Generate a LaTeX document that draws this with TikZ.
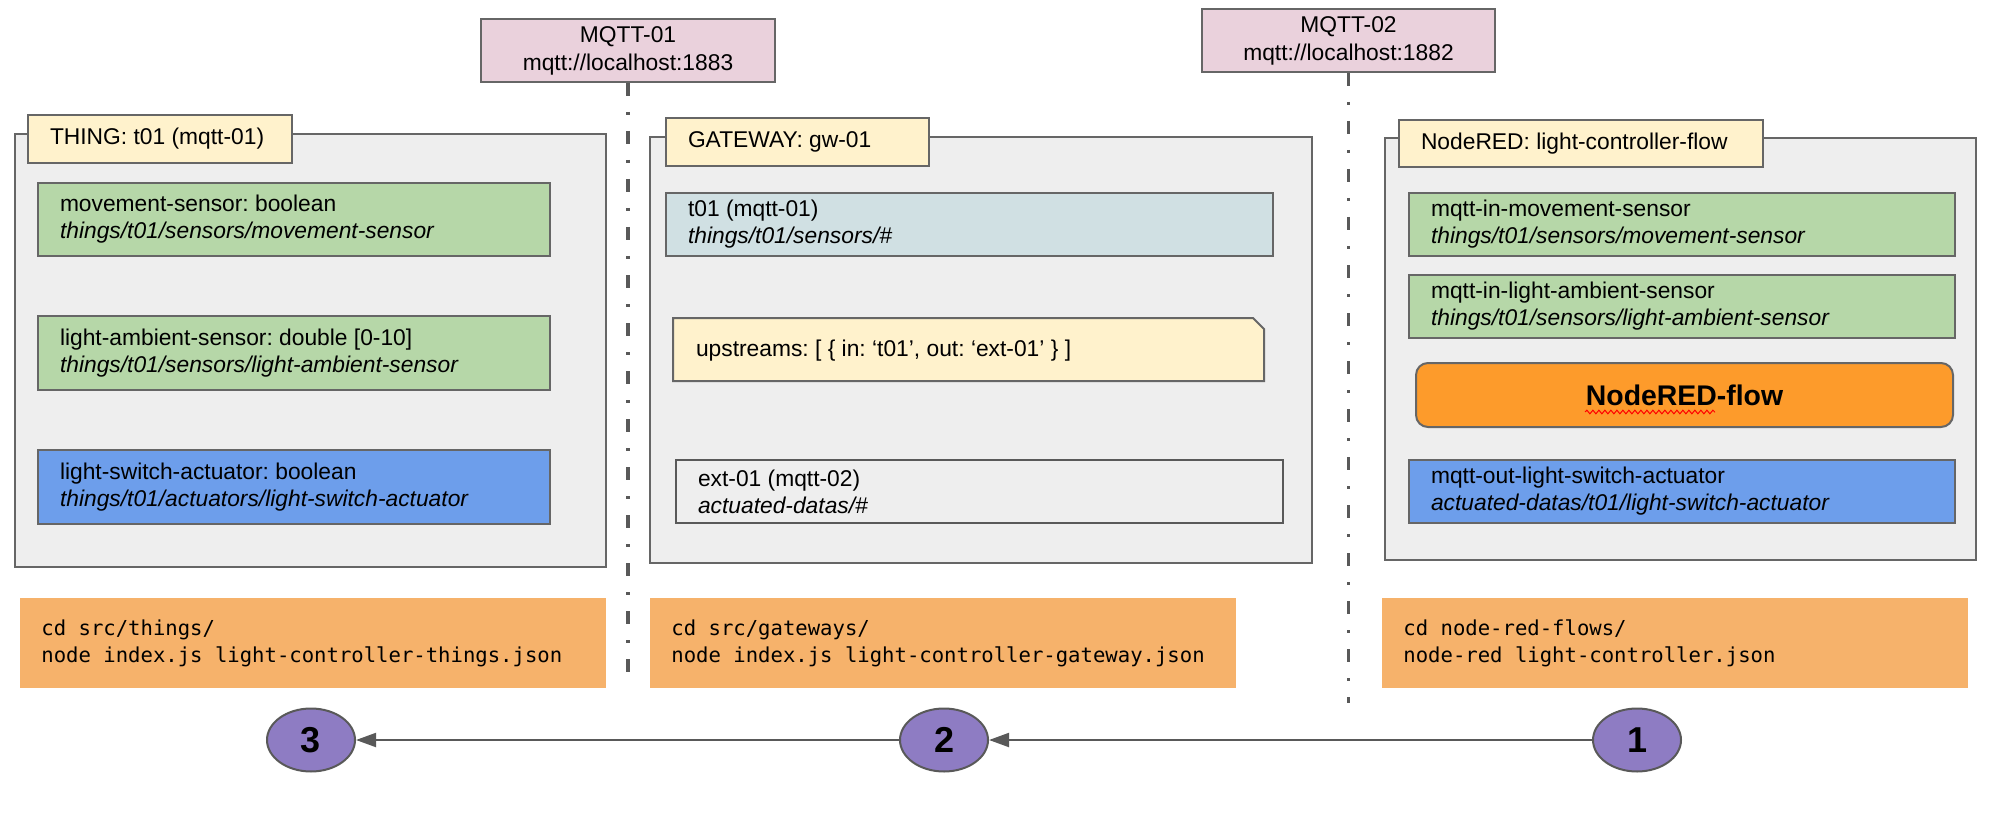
\documentclass[tikz,border=0pt]{standalone}
\usepackage{fontspec}
\setmainfont{Liberation Sans}
\setmonofont{DejaVu Sans Mono}
\usetikzlibrary{arrows.meta,shapes.geometric,decorations.pathmorphing}
\definecolor{groupbg}{HTML}{EEEEEE}
\definecolor{edgegray}{HTML}{666666}
\definecolor{darkgray}{HTML}{595959}
\definecolor{labelyellow}{HTML}{FFF2CC}
\definecolor{sensorgreen}{HTML}{B6D7A8}
\definecolor{actuatorblue}{HTML}{6D9EEB}
\definecolor{topicblue}{HTML}{D0E0E3}
\definecolor{brokerpink}{HTML}{EAD1DC}
\definecolor{floworange}{HTML}{FD9B2B}
\definecolor{cmdorange}{HTML}{F6B26B}
\definecolor{steppurple}{HTML}{8E7CC3}

\begin{document}
\frenchspacing
\begin{tikzpicture}[x=0.5pt,y=-0.5pt,
  group/.style={fill=groupbg,draw=edgegray,line width=1pt},
  box/.style={draw=edgegray,line width=1pt,anchor=north west,align=flush left,inner xsep=11pt,inner ysep=0pt,font=\fontsize{11.4}{13.5}\selectfont},
  grouplabel/.style={box,fill=labelyellow},
  sensor/.style={box,fill=sensorgreen},
  actuator/.style={box,fill=actuatorblue},
  broker/.style={draw=edgegray,line width=1pt,fill=brokerpink,align=center,inner sep=0pt,font=\fontsize{11.4}{14}\selectfont},
  brokerline/.style={draw=darkgray,line width=1.8pt,dash pattern=on 6.5pt off 8pt on 1.5pt off 8pt},
  flowbox/.style={draw=edgegray,line width=1pt,fill=floworange,rounded corners=6pt,inner sep=0pt,font=\bfseries\fontsize{14.2}{16}\selectfont},
  cmd/.style={fill=cmdorange,anchor=north west,align=flush left,inner xsep=10.5pt,inner ysep=0pt,font=\ttfamily\fontsize{10.3}{13.5}\selectfont},
  stepnum/.style={ellipse,draw=darkgray,line width=1pt,fill=steppurple,minimum width=44pt,minimum height=31.5pt,inner sep=0pt,font=\bfseries\fontsize{18}{18}\selectfont},
  flowarrow/.style={draw=darkgray,line width=1pt,-{Triangle[length=10pt,width=7pt]}}]
\useasboundingbox (0,0) rectangle (2006,834);
\node[broker,minimum width=147pt,minimum height=31.5pt] (mqttone) at (628,50.5) {MQTT-01\\mqtt://localhost:1883};
\node[broker,minimum width=146.5pt,minimum height=31.5pt] (mqtttwo) at (1348.5,40.5) {MQTT-02\\mqtt://localhost:1882};
\coordinate (mqttoneend) at (628,683);
\coordinate (mqtttwoend) at (1348.5,703);
\draw[brokerline] (mqttone.south) -- (mqttoneend);
\draw[brokerline] (mqtttwo.south) -- (mqtttwoend);
\filldraw[group] (15,134) rectangle (606,567);
\node[grouplabel,text width=110pt,minimum height=24pt] (thinglabel) at (27,114) {THING: t01 (mqtt-01)};
\node[sensor,text width=234pt,minimum height=36.5pt] (thingmove) at (37,182) {movement-sensor: boolean\\\textit{things/t01/sensors/movement-sensor}};
\node[sensor,text width=234pt,minimum height=37pt] (thingambient) at (37,315) {light-ambient-sensor: double [0-10]\\\textit{things/t01/sensors/light-ambient-sensor}};
\node[actuator,text width=234pt,minimum height=37pt] (thingswitch) at (37,449) {light-switch-actuator: boolean\\\textit{things/t01/actuators/light-switch-actuator}};
\filldraw[group] (650,137) rectangle (1312,563);
\node[grouplabel,text width=109.5pt,minimum height=24pt] (gwlabel) at (665,117) {GATEWAY: gw-01};
\node[box,fill=topicblue,text width=281.5pt,minimum height=31.5pt] (gwin) at (665,192) {t01 (mqtt-01)\\\textit{things/t01/sensors/\#}};
\filldraw[fill=labelyellow,draw=edgegray,line width=1pt] (673,318) -- (1253,318) -- (1264,329) -- (1264,381) -- (673,381) -- cycle;
\node[box,draw=none,text width=273.5pt,minimum height=31.5pt] (gwupstream) at (673,318) {upstreams: [ \{ in: ‘t01’, out: ‘ext-01’ \} ]};
\node[box,fill=groupbg,draw=darkgray,text width=281.5pt,minimum height=31.5pt] (gwout) at (675,459) {ext-01 (mqtt-02)\\\textit{actuated-datas/\#}};
\filldraw[group] (1385,138) rectangle (1976,560);
\node[grouplabel,text width=160pt,minimum height=23.5pt] (nrlabel) at (1398,119) {NodeRED: light-controller-flow};
\node[sensor,text width=251pt,minimum height=31.5pt] (nrmove) at (1408,192) {mqtt-in-movement-sensor\\\textit{things/t01/sensors/movement-sensor}};
\node[sensor,text width=251pt,minimum height=31.5pt] (nrambient) at (1408,274) {mqtt-in-light-ambient-sensor\\\textit{things/t01/sensors/light-ambient-sensor}};
\node[flowbox,minimum width=268.5pt,minimum height=32pt] (nrflow) at (1684.5,395) {NodeRED-flow};
\draw[red,line width=0.5pt,decorate,decoration={snake,amplitude=0.9pt,segment length=3pt}] (1585,412) -- (1715,412);
\node[actuator,text width=251pt,minimum height=31.5pt] (nrswitch) at (1408,459) {mqtt-out-light-switch-actuator\\\textit{actuated-datas/t01/light-switch-actuator}};
\node[cmd,text width=272pt,minimum height=45pt] (thingcmd) at (20,598) {cd src/things/\\node index.js light-controller-things.json};
\node[cmd,text width=272pt,minimum height=45pt] (gwcmd) at (650,598) {cd src/gateways/\\node index.js light-controller-gateway.json};
\node[cmd,text width=272pt,minimum height=45pt] (nrcmd) at (1382,598) {cd node-red-flows/\\node-red light-controller.json};
\node[stepnum] (three) at (311,740) {3};
\node[stepnum] (two) at (944,740) {2};
\node[stepnum] (one) at (1637,740) {1};
\draw[flowarrow] (one) -- (two);
\draw[flowarrow] (two) -- (three);
\end{tikzpicture}
\end{document}
